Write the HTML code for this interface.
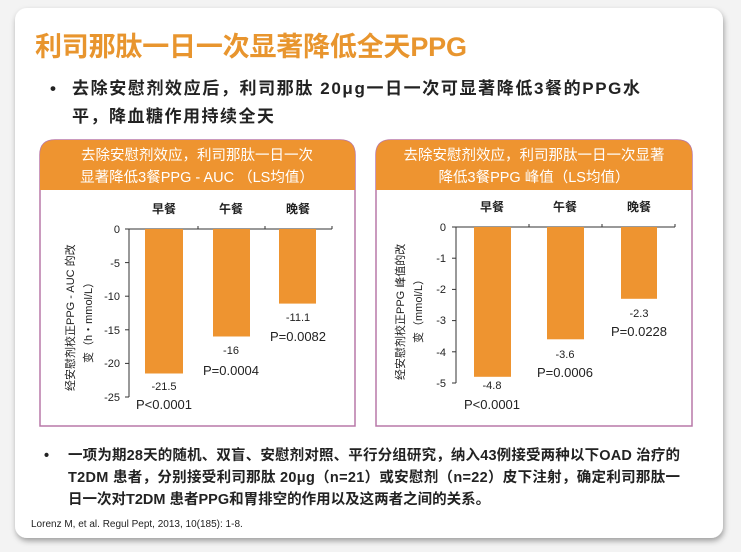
<!DOCTYPE html>
<html><head><meta charset="utf-8"><style>
body{margin:0;background:#f2f2f2;}
svg{display:block;font-family:"Liberation Sans","Noto Sans CJK SC",sans-serif;}
</style></head><body>
<svg width="741" height="552" viewBox="0 0 741 552">
<defs><filter id="sh" x="-5%" y="-5%" width="110%" height="110%"><feDropShadow dx="1" dy="3" stdDeviation="3" flood-color="#000" flood-opacity="0.35"/></filter></defs>
<rect x="0" y="0" width="741" height="552" fill="#f3f3f3"/>
<rect x="15" y="8" width="708" height="530" rx="12" fill="#fff" filter="url(#sh)"/>
<text x="35" y="56" font-size="27" fill="#e8952e" font-weight="bold" textLength="432">利司那肽一日一次显著降低全天PPG</text>
<g font-size="17" fill="#222" font-weight="bold">
<text x="50" y="94">•</text>
<text x="72" y="94" textLength="568">去除安慰剂效应后，利司那肽 20μg一日一次可显著降低3餐的PPG水</text>
<text x="72" y="122" textLength="202">平，降血糖作用持续全天</text>
</g>
<!-- left panel -->
<path d="M40,426 V155 Q40,140 55,140 H340 Q355,140 355,155 V426 Z" fill="#fff" stroke="#b878a8" stroke-width="1.5"/>
<path d="M40,190 V155 Q40,140 55,140 H340 Q355,140 355,155 V190 Z" fill="#ee9430"/>
<g font-size="14.5" fill="#fff" text-anchor="middle"><text x="197" y="160">去除安慰剂效应，利司那肽一日一次</text><text x="197" y="182">显著降低3餐PPG - AUC （LS均值）</text></g>
<g font-size="12" fill="#222" font-weight="bold" text-anchor="middle"><text x="164" y="213">早餐</text><text x="231" y="213">午餐</text><text x="298" y="213">晚餐</text></g>
<line x1="129" y1="229" x2="129" y2="397" stroke="#333"/>
<line x1="129" y1="229" x2="332" y2="229" stroke="#333"/>
<g stroke="#333"><line x1="125" y1="229" x2="129" y2="229"/><line x1="125" y1="262.6" x2="129" y2="262.6"/><line x1="125" y1="296.2" x2="129" y2="296.2"/><line x1="125" y1="329.8" x2="129" y2="329.8"/><line x1="125" y1="363.4" x2="129" y2="363.4"/><line x1="125" y1="397" x2="129" y2="397"/><line x1="198" y1="229" x2="198" y2="226"/><line x1="265" y1="229" x2="265" y2="226"/><line x1="332" y1="229" x2="332" y2="226"/></g>
<g font-size="11" fill="#222" text-anchor="end"><text x="120" y="233">0</text><text x="120" y="267">-5</text><text x="120" y="300">-10</text><text x="120" y="334">-15</text><text x="120" y="367">-20</text><text x="120" y="401">-25</text></g>
<rect x="145" y="229" width="38" height="144.5" fill="#ee9430"/>
<rect x="213" y="229" width="37" height="107.5" fill="#ee9430"/>
<rect x="279" y="229" width="37" height="74.6" fill="#ee9430"/>
<g font-size="11" fill="#222" text-anchor="middle"><text x="164" y="390">-21.5</text><text x="231" y="354">-16</text><text x="298" y="321">-11.1</text></g>
<g font-size="13" fill="#222" text-anchor="middle"><text x="164" y="409">P&lt;0.0001</text><text x="231" y="375">P=0.0004</text><text x="298" y="341">P=0.0082</text></g>
<g font-size="11" fill="#222"><text transform="translate(74,391) rotate(-90)">经安慰剂校正PPG - AUC 的改</text><text transform="translate(92,363) rotate(-90)">变（h・mmol/L）</text></g>
<!-- right panel -->
<path d="M376,426 V155 Q376,140 391,140 H677 Q692,140 692,155 V426 Z" fill="#fff" stroke="#b878a8" stroke-width="1.5"/>
<path d="M376,190 V155 Q376,140 391,140 H677 Q692,140 692,155 V190 Z" fill="#ee9430"/>
<g font-size="14.5" fill="#fff" text-anchor="middle"><text x="534" y="160">去除安慰剂效应，利司那肽一日一次显著</text><text x="534" y="182">降低3餐PPG 峰值（LS均值）</text></g>
<g font-size="12" fill="#222" font-weight="bold" text-anchor="middle"><text x="492" y="211">早餐</text><text x="565" y="211">午餐</text><text x="639" y="211">晚餐</text></g>
<line x1="456" y1="227" x2="456" y2="383" stroke="#333"/>
<line x1="456" y1="227" x2="675" y2="227" stroke="#333"/>
<g stroke="#333"><line x1="452" y1="227" x2="456" y2="227"/><line x1="452" y1="258.2" x2="456" y2="258.2"/><line x1="452" y1="289.4" x2="456" y2="289.4"/><line x1="452" y1="320.6" x2="456" y2="320.6"/><line x1="452" y1="351.8" x2="456" y2="351.8"/><line x1="452" y1="383" x2="456" y2="383"/><line x1="529" y1="227" x2="529" y2="224"/><line x1="602" y1="227" x2="602" y2="224"/><line x1="675" y1="227" x2="675" y2="224"/></g>
<g font-size="11" fill="#222" text-anchor="end"><text x="446" y="231">0</text><text x="446" y="262">-1</text><text x="446" y="293">-2</text><text x="446" y="324">-3</text><text x="446" y="356">-4</text><text x="446" y="387">-5</text></g>
<rect x="474" y="227" width="37" height="149.8" fill="#ee9430"/>
<rect x="547" y="227" width="37" height="112.3" fill="#ee9430"/>
<rect x="621" y="227" width="36" height="71.8" fill="#ee9430"/>
<g font-size="11" fill="#222" text-anchor="middle"><text x="492" y="389">-4.8</text><text x="565" y="358">-3.6</text><text x="639" y="317">-2.3</text></g>
<g font-size="13" fill="#222" text-anchor="middle"><text x="492" y="409">P&lt;0.0001</text><text x="565" y="377">P=0.0006</text><text x="639" y="336">P=0.0228</text></g>
<g font-size="11" fill="#222"><text transform="translate(404,380) rotate(-90)">经安慰剂校正PPG 峰值的改</text><text transform="translate(422,343) rotate(-90)">变（mmol/L）</text></g>
<!-- bottom -->
<g font-size="14.5" fill="#222" font-weight="bold">
<text x="44" y="460">•</text>
<text x="68" y="460" textLength="612">一项为期28天的随机、双盲、安慰剂对照、平行分组研究，纳入43例接受两种以下OAD 治疗的</text>
<text x="68" y="482" textLength="612">T2DM 患者，分别接受利司那肽 20μg（n=21）或安慰剂（n=22）皮下注射，确定利司那肽一</text>
<text x="68" y="504">日一次对T2DM 患者PPG和胃排空的作用以及这两者之间的关系。</text>
</g>
<text x="31" y="527" font-size="10" fill="#222">Lorenz M, et al. Regul Pept, 2013, 10(185): 1-8.</text>
</svg>
</body></html>
